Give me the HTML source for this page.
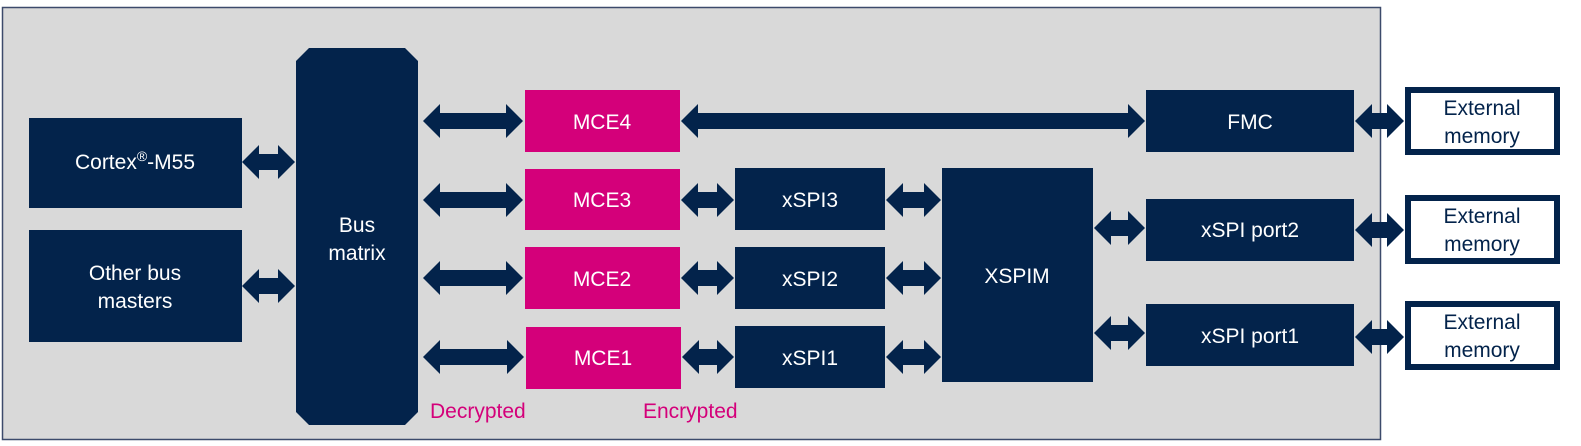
<!DOCTYPE html>
<html><head><meta charset="utf-8"><style>
body{margin:0;width:1581px;height:446px;background:#fff;overflow:hidden}
svg{display:block}
text{font-family:"Liberation Sans",Arial,sans-serif;font-size:21px}
</style></head><body>
<svg width="1581" height="446" viewBox="0 0 1581 446">
<rect x="2.5" y="7.5" width="1378" height="432" fill="#d9d9d9" stroke="#3c4a6b" stroke-width="1.5"/>
<g fill="#03234b">
<rect x="29" y="118" width="213" height="90"/>
<rect x="29" y="230" width="213" height="112"/>
<polygon points="309,48 405,48 418,61 418,412 405,425 309,425 296,412 296,61"/>
<rect x="735" y="168" width="150" height="62"/>
<rect x="735" y="247" width="150" height="62"/>
<rect x="735" y="326" width="150" height="62"/>
<rect x="942" y="168" width="151" height="214"/>
<rect x="1146" y="90" width="208" height="62"/>
<rect x="1146" y="199" width="208" height="62"/>
<rect x="1146" y="304" width="208" height="62"/>
</g>
<g fill="#d4007a">
<rect x="525" y="90" width="155" height="62"/>
<rect x="525" y="169" width="155" height="61"/>
<rect x="525" y="247" width="155" height="62"/>
<rect x="526" y="327" width="155" height="62"/>
</g>
<g fill="#fff" stroke="#03234b" stroke-width="6">
<rect x="1408" y="90" width="149" height="62"/>
<rect x="1408" y="198" width="149" height="63"/>
<rect x="1408" y="304" width="149" height="63"/>
</g>
<g fill="#03234b" id="arrows"></g>
<g fill="#fff" text-anchor="middle">
<text x="135" y="169">Cortex<tspan font-size="14" dy="-8">®</tspan><tspan dy="8">-M55</tspan></text>
<text x="135" y="280">Other bus</text>
<text x="135" y="308">masters</text>
<text x="357" y="232">Bus</text>
<text x="357" y="260">matrix</text>
<text x="602" y="129">MCE4</text>
<text x="602" y="207">MCE3</text>
<text x="602" y="286">MCE2</text>
<text x="603" y="365">MCE1</text>
<text x="810" y="207">xSPI3</text>
<text x="810" y="286">xSPI2</text>
<text x="810" y="365">xSPI1</text>
<text x="1017" y="283">XSPIM</text>
<text x="1250" y="129">FMC</text>
<text x="1250" y="237">xSPI port2</text>
<text x="1250" y="343">xSPI port1</text>
</g>
<g fill="#03234b" text-anchor="middle" style="font-size:22px">
<text x="1482" y="115">External</text>
<text x="1482" y="143">memory</text>
<text x="1482" y="223">External</text>
<text x="1482" y="251">memory</text>
<text x="1482" y="329">External</text>
<text x="1482" y="357">memory</text>
</g>
<g fill="#d4007a" style="font-size:22px">
<text x="430" y="418">Decrypted</text>
<text x="643" y="418">Encrypted</text>
</g>
</svg>
<script>
var A=[[242,295,162],[242,295,286],[423,523,121],[423,523,200],[423,523,278],[423,524,357],
[681,1145,121],[681,734,200],[681,734,278],[682,734,357],[886,941,200],[886,941,278],[886,941,357],
[1094,1145,228],[1094,1145,333],[1355,1404,121],[1355,1404,230],[1355,1404,337]];
var g=document.getElementById('arrows'),h='';
A.forEach(function(a){var x1=a[0],x2=a[1],c=a[2],L=17,H=17,S=8;
h+='<polygon points="'+[x1,c,x1+L,c-H,x1+L,c-S,x2-L,c-S,x2-L,c-H,x2,c,x2-L,c+H,x2-L,c+S,x1+L,c+S,x1+L,c+H].join(',')+'"/>';});
g.innerHTML=h;
</script>
</body></html>
